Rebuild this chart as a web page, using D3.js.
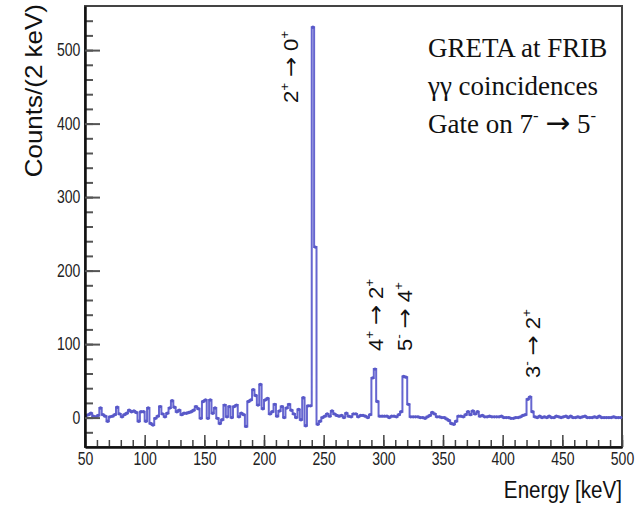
<!DOCTYPE html>
<html>
<head>
<meta charset="utf-8">
<script src="https://cdn.jsdelivr.net/npm/d3@7"></script>
<style>
  body { margin: 0; background: #fff; }
  svg { display: block; }
</style>
</head>
<body>
<div id="chart"></div>
<script>
// Histogram: 2 keV bins from 50 to 500 keV (left bin edges)
var binStart = 50;
var binWidth = 2;
var counts = [
  // 50 - 98
  3, 4, 6, 2, 1, 3, 13, 4, 2, -5, 1, 2, 4, 14, 5, 1, 4, 6, 10, 8, 9, 7, -5, 8, 8,
  // 100 - 148
  -5, 13, -8, -10, -1, 2, 15, 5, 1, 6, 13, 23, 14, 8, 10, 4, 6, 6, 7, 8, 10, 15, 12, -1, 22,
  // 150 - 198
  24, -1, 24, 6, 13, -1, -8, -3, 17, 1, 15, 0, 15, 17, 1, 6, 4, -12, 22, 24, 38, 30, 17, 45, 12,
  // 200 - 248
  24, 26, 5, 8, 18, 2, 9, 15, 0, 13, 18, 10, 5, 0, 11, -3, 27, -11, 16, 16, 531, 232, -9, -5, 0,
  // 250 - 298
  2, 5, 2, 9, 5, 3, 2, 3, 0, 6, 2, 1, 5, 5, 1, 3, 3, 2, 0, 4, 54, 66, 22, 2, 2,
  // 300 - 348
  2, 2, 0, 2, 2, 1, 4, 8, 56, 55, 18, 1, 1, 1, 1, 0, 0, -1, 1, 3, 7, 5, 1, 1, 0,
  // 350 - 398
  0, -2, -4, -8, -9, -5, 2, 2, 1, 4, 8, 4, 9, 5, 8, 2, 3, 1, 1, 2, 1, 1, 1, 1, 2,
  // 400 - 448
  0, 0, 0, -1, -1, 0, 0, 1, 3, 4, 25, 28, 8, 1, 0, 2, 0, 1, 0, 2, 0, 0, 2, 1, 0,
  // 450 - 498
  1, 2, 0, 2, 0, 0, 1, 0, 1, 2, 0, 0, 0, 1, 0, 2, 0, 0, 0, 0, 0, 1, 0, 0, 0
];

var xTicks = [50, 100, 150, 200, 250, 300, 350, 400, 450, 500];
var yTicks = [0, 100, 200, 300, 400, 500];

// Transition labels: energy of peak + pieces (text, 1 = superscript, 2 = arrow)
var arrow = "\u2192";
var peakLabels = [
  { e: 241, parts: [["2", 0], ["+", 1], [arrow, 2], ["0", 0], ["+", 1]] },
  { e: 292, parts: [["4", 0], ["+", 1], [arrow, 2], ["2", 0], ["+", 1]] },
  { e: 317, parts: [["5", 0], ["-", 1], [arrow, 2], ["4", 0], ["+", 1]] },
  { e: 422, parts: [["3", 0], ["-", 1], [arrow, 2], ["2", 0], ["+", 1]] }
];

var infoLines = [
  [["GRETA at FRIB", 0]],
  [["\u03b3\u03b3 coincidences", 0]],
  [["Gate on 7", 0], ["-", 1], [arrow, 2], ["5", 0], ["-", 1]]
];

function init() {
    var w = 642, h = 505;
    var pLeft = 85, pRight = 622, pTop = 6, pBottom = 447;
    var lineColor = "#6666d0";
    var sans = "'Liberation Sans', Arial, Helvetica, sans-serif";

    var svg = d3.select("#chart").append("svg")
        .attr("width", w)
        .attr("height", h);

    var x = d3.scaleLinear().domain([50, 500]).range([pLeft, pRight]);
    var y = d3.scaleLinear().domain([-40, 560]).range([pBottom, pTop]);

    // frame
    svg.append("rect")
        .attr("x", pLeft).attr("y", pTop)
        .attr("width", pRight - pLeft).attr("height", pBottom - pTop)
        .attr("fill", "none")
        .attr("stroke", "#444")
        .attr("stroke-width", 2);

    // histogram as steps
    var pts = counts.map((c, i) => ({ e: binStart + i * binWidth, c: c }));
    pts.push({ e: 500, c: counts[counts.length - 1] });

    svg.append("path")
        .datum(pts)
        .attr("fill", "none")
        .attr("stroke", lineColor)
        .attr("stroke-width", 2)
        .attr("d", d3.line().x(d => x(d.e)).y(d => y(d.c)).curve(d3.curveStepAfter));

    svg.selectAll(".dot")
        .data(counts)
        .enter().append("circle")
        .attr("class", "dot")
        .attr("cx", (d, i) => x(binStart + (i + 0.5) * binWidth))
        .attr("cy", d => y(d))
        .attr("r", 1.7)
        .attr("fill", "#5858c8");

    // x axis: minor then major
    svg.append("g")
        .attr("transform", `translate(0,${pBottom})`)
        .call(d3.axisBottom(x).tickValues(d3.range(50, 501, 10)).tickSize(-7).tickSizeOuter(0).tickFormat(""))
        .call(g => g.select(".domain").remove())
        .selectAll("line").attr("stroke", "#444").attr("stroke-width", 1.5);

    var xAxis = svg.append("g")
        .attr("transform", `translate(0,${pBottom})`)
        .call(d3.axisBottom(x).tickValues(xTicks).tickSize(-12).tickSizeOuter(0).tickPadding(5));
    xAxis.select(".domain").attr("stroke", "#111").attr("stroke-width", 2.5);
    xAxis.selectAll("line").attr("stroke", "#444").attr("stroke-width", 1.5);
    xAxis.selectAll("text")
        .attr("transform", "scale(0.78,1)")
        .style("font-family", sans)
        .style("font-size", "18px")
        .attr("fill", "#222");

    // y axis: minor then major
    svg.append("g")
        .attr("transform", `translate(${pLeft},0)`)
        .call(d3.axisLeft(y).tickValues(d3.range(-20, 541, 20)).tickSize(-8).tickSizeOuter(0).tickFormat(""))
        .call(g => g.select(".domain").remove())
        .selectAll("line").attr("stroke", "#555").attr("stroke-width", 2);

    var yAxis = svg.append("g")
        .attr("transform", `translate(${pLeft},0)`)
        .call(d3.axisLeft(y).tickValues(yTicks).tickSize(-15).tickSizeOuter(0).tickPadding(6));
    yAxis.select(".domain").attr("stroke", "#111").attr("stroke-width", 2.5);
    yAxis.selectAll("line").attr("stroke", "#555").attr("stroke-width", 2);
    yAxis.selectAll("text")
        .attr("transform", "scale(0.78,1)")
        .style("font-family", sans)
        .style("font-size", "18px")
        .attr("fill", "#222");

    // axis titles
    svg.append("text")
        .attr("transform", "translate(622,498) scale(0.86,1)")
        .attr("text-anchor", "end")
        .style("font-family", sans)
        .style("font-size", "24px")
        .attr("fill", "#111")
        .text("Energy [keV]");

    svg.append("text")
        .attr("transform", "translate(42,4) scale(0.95,1) rotate(-90)")
        .attr("text-anchor", "end")
        .style("font-family", sans)
        .style("font-size", "26px")
        .attr("fill", "#111")
        .text("Counts/(2 keV)");

    // writes normal / superscript / arrow pieces into a text element
    function addParts(t, parts, size) {
        var shift = size * 0.45;
        var up = false;
        parts.forEach(p => {
            var ts = t.append("tspan").text(p[0]);
            if (p[1] === 1) {
                ts.style("font-size", (size * 0.62) + "px");
                if (!up) { ts.attr("dy", -shift); up = true; }
            } else {
                if (up) { ts.attr("dy", shift); up = false; }
                if (p[1] === 2) {
                    ts.style("font-family", "'DejaVu Sans', sans-serif")
                        .style("font-size", (size * 1.1) + "px")
                        .attr("dx", size * 0.25);
                    t.append("tspan").text(" ");
                }
            }
        });
    }

    // peak labels, rotated
    var labelPos = { 241: [298, 103], 292: [383, 351], 317: [412, 351], 422: [540, 378] };
    peakLabels.forEach(l => {
        var p = labelPos[l.e];
        var t = svg.append("text")
            .attr("transform", `translate(${p[0]},${p[1]}) scale(0.88,1) rotate(-90)`)
            .style("font-family", sans)
            .style("font-size", "22px")
            .attr("fill", "#111");
        addParts(t, l.parts, 22);
    });

    // info text
    infoLines.forEach((line, i) => {
        var t = svg.append("text")
            .attr("x", 428)
            .attr("y", 57 + i * 38)
            .style("font-family", "'Liberation Serif', 'Times New Roman', serif")
            .style("font-size", "27px")
            .attr("fill", "#111");
        addParts(t, line, 27);
    });
}

window.onload = init;
</script>
</body>
</html>
